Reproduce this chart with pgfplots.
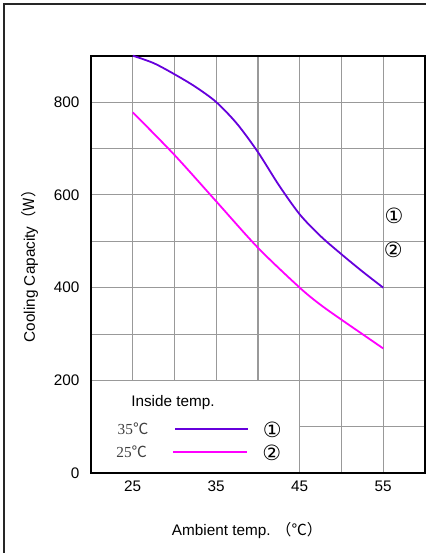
\documentclass[border=0pt]{standalone}
\usepackage{fontspec}
\setmainfont{Liberation Sans}
\newfontfamily\cjk{Noto Sans CJK SC}
\newfontfamily\serif{Liberation Serif}
\newfontfamily\dejavu{DejaVu Sans}
\usepackage{pgfplots}
\pgfplotsset{compat=1.18}
\definecolor{curvepurple}{RGB}{102,0,220}
\definecolor{curvemagenta}{RGB}{255,0,255}

\begin{document}
\begin{tikzpicture}
\begin{axis}[
  at={(0pt,0pt)}, anchor=south west,
  scale only axis, width=334pt, height=417.6pt,
  xmin=20, xmax=60, ymin=0, ymax=900,
  xtick={25,35,45,55}, minor xtick={30,40,50},
  ytick={0,200,...,800}, minor ytick={100,300,...,900},
  grid=both,
  major grid style={black!40, line width=1.1pt},
  minor grid style={black!40, line width=1.1pt},
  major tick length=0pt, minor tick length=0pt,
  axis line style={line width=1.6pt, black},
  tick label style={font=\fontsize{15.3}{17}\selectfont},
  /pgf/number format/assume math mode=true,
  yticklabel style={xshift=-8pt},
  xticklabel style={yshift=-4pt},
  clip=false,
]
% inside temp 35 C
\addplot[curvepurple, line width=1.8pt, smooth] coordinates {
  (25,900) (27.5,884) (30,860) (32.5,833) (35,800) (37.5,753) (40,692)
  (42.5,621) (45,558) (47.5,511) (50,472) (52.5,435) (55,400)};
% inside temp 25 C
\addplot[curvemagenta, line width=1.8pt, smooth] coordinates {
  (25,778) (30,686) (35,586) (40,486) (45,400) (47.5,363) (50,331)
  (52.5,300) (55,269)};

% legend box
\fill[white] (axis cs:20.13,2.3) rectangle (axis cs:44.92,198.6);
\node[anchor=west, inner sep=0pt, font=\fontsize{15.3}{17}\selectfont] at (axis cs:24.8,153) {Inside temp.};
\node[text=black!75, font=\serif\fontsize{15.3}{17}\selectfont] at (axis cs:25.03,97) {35{\cjk ℃}};
\node[text=black!75, font=\serif\fontsize{15.3}{17}\selectfont] at (axis cs:24.87,46) {25{\cjk ℃}};
\draw[curvepurple, line width=1.8pt] (axis cs:30.06,95.3) -- (axis cs:38.84,95.3);
\draw[curvemagenta, line width=1.8pt] (axis cs:29.86,45.3) -- (axis cs:38.68,45.3);
\node[font=\dejavu\fontsize{21}{22}\selectfont] at (axis cs:41.7,93.5) {①};
\node[font=\dejavu\fontsize{21}{22}\selectfont] at (axis cs:41.64,44) {②};

\node[font=\dejavu\fontsize{21}{22}\selectfont] at (axis cs:56.29,554) {①};
\node[font=\dejavu\fontsize{21}{22}\selectfont] at (axis cs:56.2,481) {②};
\end{axis}

\node[rotate=90, font=\fontsize{15.3}{17}\selectfont] at (-61pt,211pt) {Cooling Capacity{\cjk （W）}};
\node[font=\fontsize{15.3}{17}\selectfont] at (156pt,-57.7pt) {Ambient temp. {\cjk （℃）}};

\draw[black!85, line width=1.6pt] (-87pt,-79.7pt) -- (-87pt,469.3pt) -- (335pt,469.3pt);

\pgfresetboundingbox
\useasboundingbox (-91pt,-79.7pt) rectangle (335pt,473.3pt);
\end{tikzpicture}
\end{document}
